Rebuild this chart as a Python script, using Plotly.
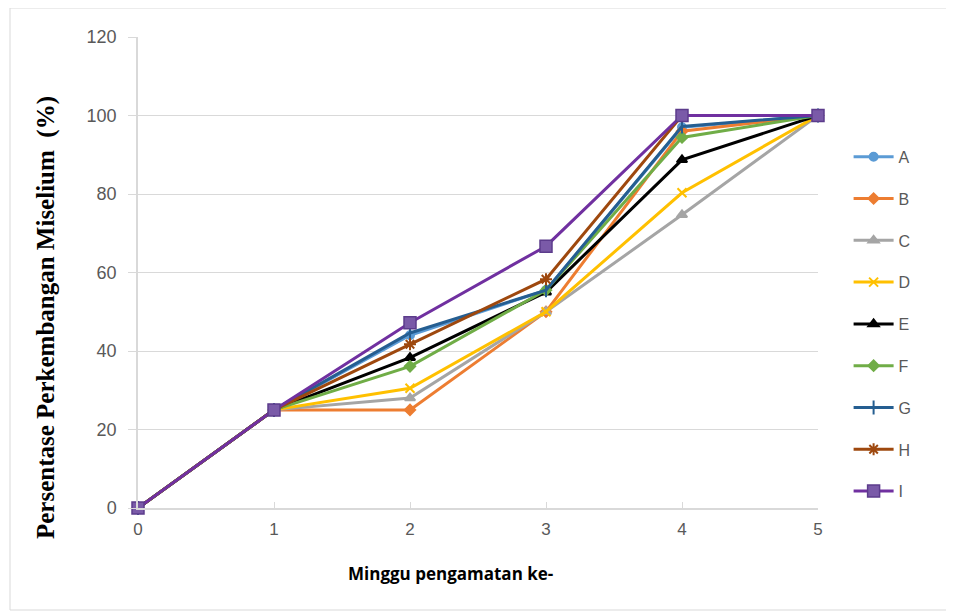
import plotly.graph_objects as go

weeks = [0, 1, 2, 3, 4, 5]
series_names = ["A", "B", "C", "D", "E", "F", "G", "H", "I"]
A = [0, 25, 44, 55.5, 97, 100]
B = [0, 25, 25, 50, 96, 100]
C = [0, 25, 28, 50, 74.7, 100]
D = [0, 25, 30.5, 50, 80.3, 100]
E = [0, 25, 38.3, 55, 88.7, 100]
F = [0, 25, 36.1, 55.5, 94.4, 100]
G = [0, 25, 44.6, 55.5, 97.2, 100]
H = [0, 25, 41.7, 58.3, 100, 100]
I = [0, 25, 47.2, 66.7, 100, 100]
values = [A, B, C, D, E, F, G, H, I]

colors = ["#5B9BD5", "#ED7D31", "#A5A5A5", "#FFC000", "#000000",
          "#70AD47", "#255E91", "#9E480E", "#7030A0"]
symbols = ["circle", "diamond", "triangle-up", "x-thin-open", "triangle-up",
           "diamond", "line-ns-open", "asterisk-open", "square"]
sizes = [8, 8, 9, 9, 9, 8, 10, 10, 12]

fig = go.Figure()
for name, vals, c, s, sz in zip(series_names, values, colors, symbols, sizes):
    mk = dict(symbol=s, size=sz, color=c, line=dict(color=c, width=2))
    if name == "I":
        mk["color"] = "#7A5AA8"
        mk["line"] = dict(color="#5C3C8C", width=1.5)
    fig.add_trace(go.Scatter(
        x=weeks, y=vals, name=name, mode="lines+markers", legendgroup=name,
        line=dict(color=c, width=3), marker=mk, cliponaxis=False))

# screen plot area: x 138..818, y 37..508 (page body has an 8px margin)
fig.update_layout(
    width=954, height=616,
    paper_bgcolor="white", plot_bgcolor="white",
    margin=dict(l=130, r=144, t=29, b=116),
    showlegend=True,
    legend=dict(x=1.045, y=0.39, yanchor="middle", xanchor="left",
                font=dict(family="Liberation Sans, Arial", size=16, color="#595959"),
                tracegroupgap=18, itemwidth=40, traceorder="grouped",
                bgcolor="rgba(0,0,0,0)"),
    xaxis=dict(range=[0, 5], tickvals=weeks, showgrid=False,
               showline=True, linecolor="#D9D9D9", linewidth=1.5,
               ticks="inside", ticklen=6, tickcolor="#D9D9D9",
               ticklabelstandoff=5,
               tickfont=dict(family="Liberation Sans, Arial", size=17, color="#595959"),
               zeroline=False),
    yaxis=dict(range=[0, 120], tickvals=[0, 20, 40, 60, 80, 100, 120],
               showgrid=True, gridcolor="#D9D9D9", gridwidth=1,
               showline=True, linecolor="#D9D9D9", linewidth=1.5,
               ticks="outside", ticklen=8, tickcolor="#D9D9D9",
               ticklabelstandoff=8,
               tickfont=dict(family="Liberation Sans, Arial", size=18, color="#595959"),
               zeroline=False),
)
fig.add_annotation(text="<b>Minggu pengamatan ke-</b>", xref="paper", yref="paper",
                   x=(450 - 138) / 680, y=(508 - 573) / 471, showarrow=False,
                   xanchor="center", yanchor="middle",
                   font=dict(family="Open Sans, Liberation Sans", size=17, color="#000000"))
fig.add_annotation(text="<b>Persentase Perkembangan Miselium  (%)</b>", xref="paper", yref="paper",
                   x=(46 - 138) / 680, y=(508 - 318) / 471, showarrow=False, textangle=-90,
                   xanchor="center", yanchor="middle",
                   font=dict(family="Liberation Serif, Times New Roman", size=25, color="#000000"))
fig.add_shape(type="rect", xref="paper", yref="paper",
              x0=(10 - 138) / 680, x1=(947 - 138) / 680,
              y0=(508 - 610) / 471, y1=(508 - 8) / 471,
              line=dict(color="#D9D9D9", width=1))

fig.write_html("out.html")
